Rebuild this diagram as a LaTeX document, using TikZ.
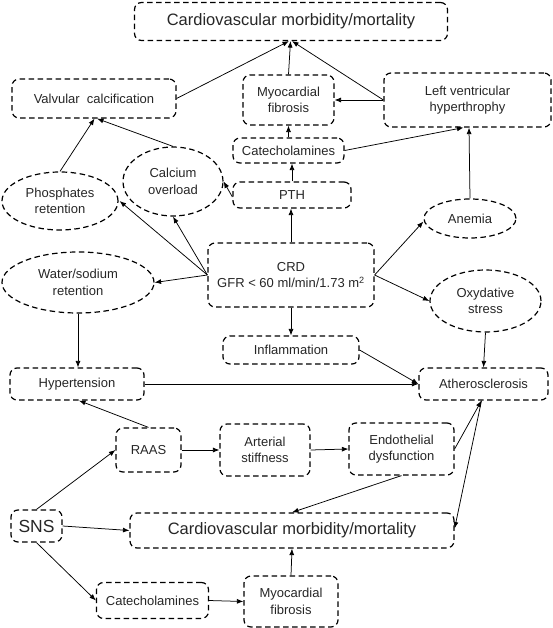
\documentclass[tikz,border=0pt]{standalone}
\usepackage{fontspec}
\setmainfont{Liberation Sans}
\usetikzlibrary{shapes.geometric,arrows.meta}
\tikzset{
  base/.style={draw=black, line width=1.2pt, dash pattern=on 5.5pt off 3.5pt, align=center, inner sep=0pt, font=\fontsize{13}{16.5}\selectfont, text=black!85},
  rbox/.style n args={2}{base, rectangle, rounded corners=7pt, minimum width=#1, minimum height=#2},
  ebox/.style n args={2}{base, ellipse, minimum width=#1, minimum height=#2},
  arr/.style={line width=0.75pt, -{Latex[length=6.5pt,width=5pt]}},
  big/.style={font=\fontsize{16.5}{20}\selectfont},
}
\begin{document}
\begin{tikzpicture}[x=1pt,y=-1pt]
\useasboundingbox (0,0) rectangle (553,628);
% nodes
\node[rbox={313pt}{38pt}, big] (title) at (291,21.5) {Cardiovascular morbidity/mortality};
\node[rbox={164pt}{39pt}] (valv) at (94,98.5) {Valvular\ \ calcification};
\node[rbox={91pt}{50pt}] (mf1) at (288.5,100) {Myocardial\\fibrosis};
\node[rbox={167pt}{54pt}] (lvh) at (467.5,100) {Left ventricular\\hyperthrophy};
\node[rbox={111pt}{25pt}] (cat1) at (288.5,150.5) {Catecholamines};
\node[rbox={118pt}{26pt}] (pth) at (292,195) {PTH};
\node[ebox={100pt}{69pt}] (calc) at (173,181.5) {Calcium\\overload};
\node[ebox={116pt}{58pt}] (phos) at (60,201) {Phosphates\\retention};
\node[ebox={92pt}{39pt}] (anem) at (470,218.5) {Anemia};
\node[rbox={166pt}{64pt}] (crd) at (291,275) {CRD\\GFR < 60 ml/min/1.73 m\textsuperscript{2}};
\node[ebox={152pt}{61pt}] (water) at (78,282.5) {Water/sodium\\retention};
\node[ebox={111pt}{62pt}] (oxy) at (485.5,301) {Oxydative\\stress};
\node[rbox={136pt}{28pt}] (infl) at (291,350) {Inflammation};
\node[rbox={134pt}{32pt}] (hyp) at (77,384) {Hypertension};
\node[rbox={129pt}{32pt}] (ath) at (483.5,384) {Atherosclerosis};
\node[rbox={65pt}{44pt}] (raas) at (148.5,450) {RAAS};
\node[rbox={90pt}{52pt}] (stiff) at (265,450) {Arterial\\stiffness};
\node[rbox={105pt}{52pt}] (endo) at (401.5,449) {Endothelial\\dysfunction};
\node[rbox={51pt}{32pt}, font=\fontsize{17.5}{20}\selectfont] (sns) at (36.5,526) {SNS};
\node[rbox={324pt}{35pt}, big] (cv2) at (292,530.5) {Cardiovascular morbidity/mortality};
\node[rbox={112pt}{36pt}] (cat2) at (152.5,600.5) {Catecholamines};
\node[rbox={94pt}{51pt}] (mf2) at (291,601.5) {Myocardial\\fibrosis};
% connectors
\draw[arr] (valv.east) -- ([xshift=-2pt]title.south);
\draw[arr] (mf1.north) -- ([xshift=-0.5pt]title.south);
\draw[arr] (lvh.west) -- ([xshift=1pt]title.south);
\draw[arr] (lvh.west) -- (mf1.east);
\draw[arr] (cat1.north) -- (mf1.south);
\draw[arr] (cat1.east) -- ([xshift=-4pt]lvh.south);
\draw[arr] (anem.north) -- ([xshift=1.5pt]lvh.south);
\draw[arr] (pth.north) -- ([xshift=3.5pt]cat1.south);
\draw[arr] ([yshift=-2pt]pth.west) -- (calc.east);
\draw[arr] (phos.north) -- ([xshift=0.5pt]valv.south);
\draw[arr] (calc.north) -- ([xshift=3pt]valv.south);
\draw[arr] (crd.west) -- ([xshift=1pt]phos.east);
\draw[arr] (crd.west) -- (calc.south);
\draw[arr] (crd.west) -- (water.east);
\draw[arr] (crd.north) -- (pth.south -| crd.north);
\draw[arr] (crd.east) -- ([yshift=-3pt]anem.west);
\draw[arr] (crd.east) -- (oxy.west);
\draw[arr] (crd.south) -- (infl.north);
\draw[arr] (infl.east) -- (ath.west);
\draw[arr] (oxy.south) -- (ath.north);
\draw[arr] (water.south) -- (water.south |- hyp.north);
\draw[arr] (hyp.east) -- (ath.west);
\draw[arr] (raas.north) -- ([xshift=2pt]hyp.south);
\draw[arr] (sns.north) -- (raas.west);
\draw[arr] (raas.east) -- (stiff.west);
\draw[arr] (stiff.east) -- (endo.west);
\draw[arr] (endo.east) -- ([xshift=-2pt]ath.south);
\draw[arr] ([xshift=-2pt]ath.south) -- ([yshift=2pt]cv2.east);
\draw[arr] (endo.south) -- (cv2.north);
\draw[arr] (sns.east) -- (cv2.west);
\draw[arr] (sns.south) -- (cat2.west);
\draw[arr] (cat2.east) -- (mf2.west);
\draw[arr] (mf2.north) -- (cv2.south);
\end{tikzpicture}
\end{document}
